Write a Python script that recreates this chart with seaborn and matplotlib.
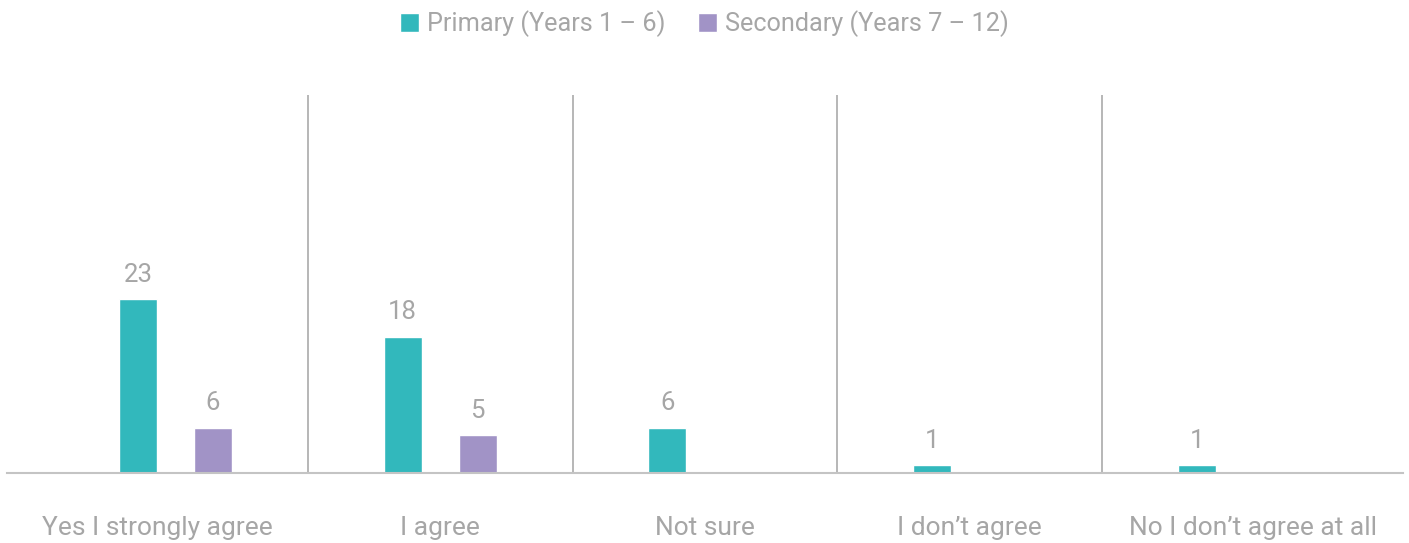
import matplotlib
matplotlib.use("Agg")
import matplotlib.pyplot as plt
import matplotlib.transforms as mtransforms
import seaborn as sns
import pandas as pd

categories = ["Yes I strongly agree", "I agree", "Not sure", "I don\u2019t agree", "No I don\u2019t agree at all"]
series_names = ["Primary (Years 1 \u2013 6)", "Secondary (Years 7 \u2013 12)"]
primary = [23, 18, 6, 1, 1]
secondary = [6, 5, 0, 0, 0]

colors = ["#32B8BC", "#A193C6"]
text_gray = "#A6A6A6"

df = pd.DataFrame({
    "category": categories * 2,
    "series": [series_names[0]] * len(categories) + [series_names[1]] * len(categories),
    "value": primary + secondary,
})

sns.set_theme(style="white")
plt.rcParams["font.family"] = ["Roboto", "DejaVu Sans"]

fig = plt.figure(figsize=(14.09, 5.43), dpi=100)
ax = fig.add_axes([7 / 1409, 1 - 473 / 543, 1396 / 1409, (473 - 95) / 543])

sns.barplot(data=df, x="category", y="value", hue="series", order=categories,
            hue_order=series_names, palette=colors, width=0.5666, gap=0.4935,
            saturation=1, ax=ax, legend=True)

for cont in ax.containers:
    labels = [f"{v:.0f}" if v > 0 else "" for v in cont.datavalues]
    ax.bar_label(cont, labels=labels, padding=9, color=text_gray,
                 fontsize=18.5, fontweight="normal")

ax.set_ylim(0, 50)
ax.set_xlim(-0.5 - 36 / 264.75, len(categories) - 0.5 + 36 / 264.75)
ax.set_yticks([])
ax.set_xlabel("")
ax.set_ylabel("")

for s in ["top", "right", "left"]:
    ax.spines[s].set_visible(False)
ax.spines["bottom"].set_color("#C4C4C4")
ax.spines["bottom"].set_linewidth(1.5)

ax.set_xticks([i + 0.5 for i in range(len(categories) - 1)], minor=True)
ax.grid(which="minor", axis="x", color="#AAAAAA", linewidth=1.2)
ax.tick_params(axis="x", which="both", length=0, pad=31, labelsize=19,
               labelcolor=text_gray)

labs = ax.get_xticklabels()
labs[0].set_transform(labs[0].get_transform() + mtransforms.ScaledTranslation(-18 / 100, 0, fig.dpi_scale_trans))
labs[-1].set_transform(labs[-1].get_transform() + mtransforms.ScaledTranslation(18 / 100, 0, fig.dpi_scale_trans))

handles, lbls = ax.get_legend_handles_labels()
ax.legend_.remove()
leg = fig.legend(handles, lbls, loc="center", bbox_to_anchor=(0.5, 1 - 24 / 543),
                 ncol=2, frameon=False, handlelength=0.75, handleheight=0.75,
                 handletextpad=0.3, columnspacing=1.3, fontsize=18.2)
for t in leg.get_texts():
    t.set_color(text_gray)

fig.savefig("out.png", dpi=100)
